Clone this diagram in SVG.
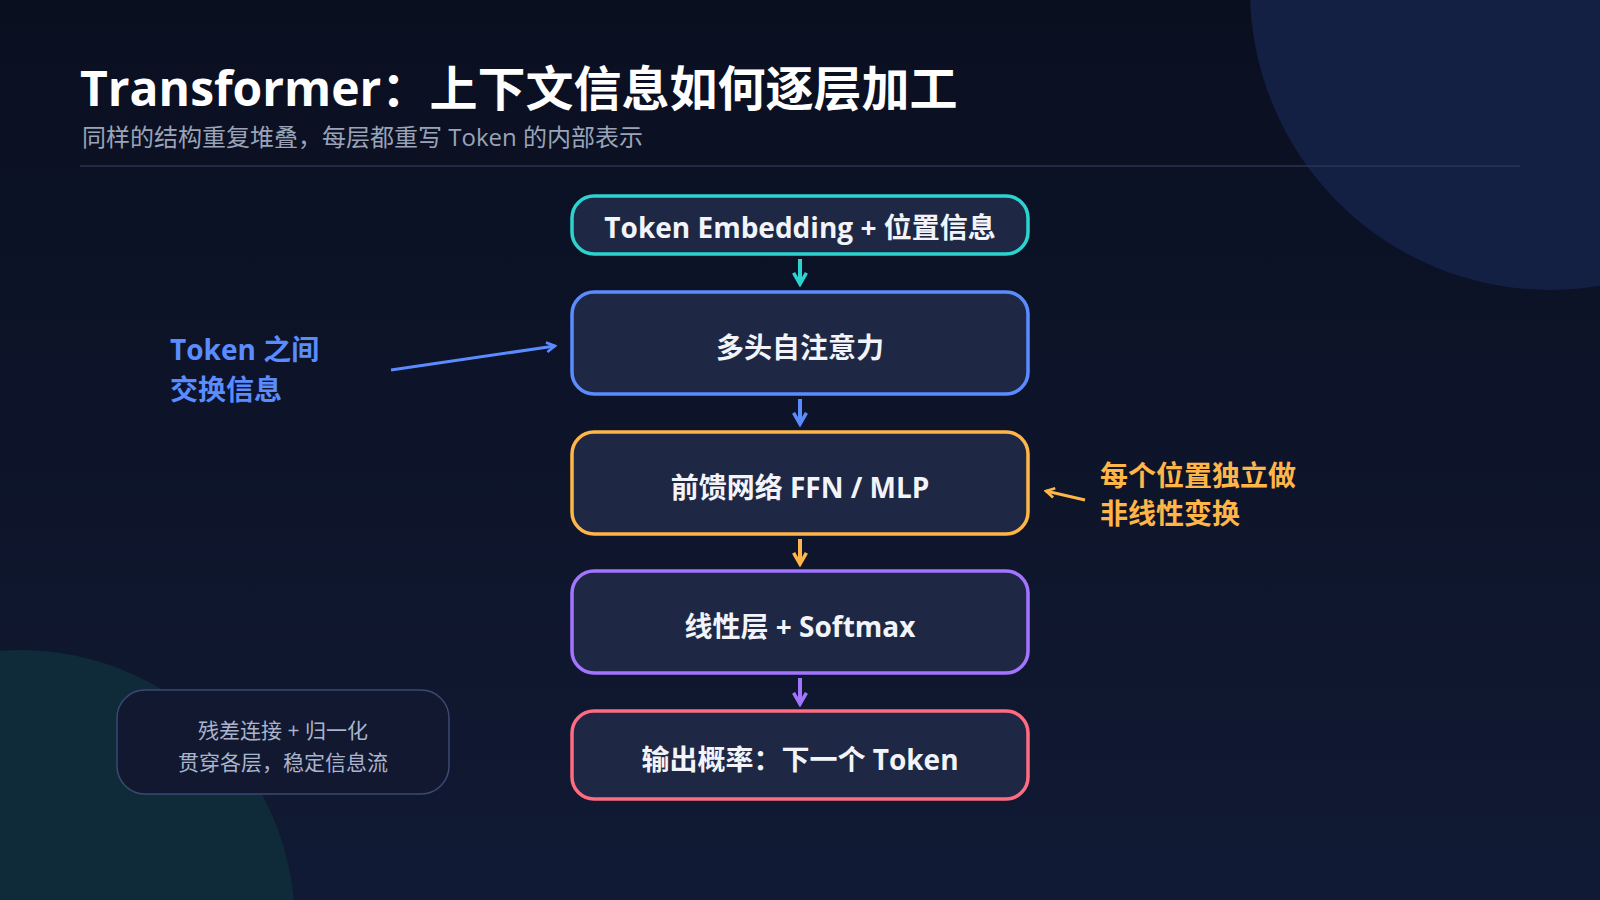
<svg xmlns="http://www.w3.org/2000/svg" width="1600" height="900" viewBox="0 0 1600 900">
<defs>
<linearGradient id="bg" x1="0" y1="0" x2="0" y2="1"><stop offset="0" stop-color="#0a0f20"/><stop offset="1" stop-color="#111a34"/></linearGradient>
<marker id="mt" viewBox="0 0 10 10" refX="8" refY="5" markerWidth="4" markerHeight="4" orient="auto"><path d="M1,1 L8,5 L1,9" fill="none" stroke="#2dd4cf" stroke-width="2.2"/></marker>
<marker id="mb" viewBox="0 0 10 10" refX="8" refY="5" markerWidth="4" markerHeight="4" orient="auto"><path d="M1,1 L8,5 L1,9" fill="none" stroke="#5b8cff" stroke-width="2.2"/></marker>
<marker id="mo" viewBox="0 0 10 10" refX="8" refY="5" markerWidth="4" markerHeight="4" orient="auto"><path d="M1,1 L8,5 L1,9" fill="none" stroke="#ffb547" stroke-width="2.2"/></marker>
<marker id="mp" viewBox="0 0 10 10" refX="8" refY="5" markerWidth="4" markerHeight="4" orient="auto"><path d="M1,1 L8,5 L1,9" fill="none" stroke="#a374ff" stroke-width="2.2"/></marker>
</defs>
<style>
text{font-family:"Open Sans","Noto Sans CJK SC",sans-serif}
.node{fill:#1e2844;stroke-width:3.5}
.nt{fill:#f2f4fa;font-size:28px;font-weight:700;text-anchor:middle}
.lab{font-size:28px;font-weight:700}
.ar{stroke-width:4;fill:none}
</style>
<rect width="1600" height="900" fill="url(#bg)"/>
<circle cx="1550" cy="-10" r="300" fill="#132043"/>
<circle cx="20" cy="925" r="275" fill="#0f2a38"/>
<text x="80" y="106" font-size="48" font-weight="700" fill="#ffffff">Transformer：上下文信息如何逐层加工</text>
<text x="82" y="146" font-size="24" fill="#9aa3b8">同样的结构重复堆叠，每层都重写 Token 的内部表示</text>
<line x1="80" y1="166" x2="1520" y2="166" stroke="#2a3552" stroke-width="1.5"/>
<g id="n1"><rect class="node" x="572" y="196" width="456" height="58" rx="22" stroke="#2dd4cf"/><text class="nt" x="800" y="238">Token Embedding + 位置信息</text></g>
<g id="n2"><rect class="node" x="572" y="292" width="456" height="102" rx="22" stroke="#5b8cff"/><text class="nt" x="800" y="358">多头自注意力</text></g>
<g id="n3"><rect class="node" x="572" y="432" width="456" height="102" rx="22" stroke="#ffb547"/><text class="nt" x="800" y="498">前馈网络 FFN / MLP</text></g>
<g id="n4"><rect class="node" x="572" y="571" width="456" height="102" rx="22" stroke="#a374ff"/><text class="nt" x="800" y="637">线性层 + Softmax</text></g>
<g id="n5"><rect class="node" x="572" y="711" width="456" height="88" rx="22" stroke="#ff6b81"/><text class="nt" x="800" y="770">输出概率：下一个 Token</text></g>
<g id="note"><rect x="117" y="690" width="332" height="104" rx="28" fill="#111830" stroke="#3a4a70" stroke-width="1.5"/>
<text x="283" y="738" font-size="21" fill="#aab4cc" text-anchor="middle">残差连接 + 归一化</text>
<text x="283" y="770" font-size="21" fill="#aab4cc" text-anchor="middle">贯穿各层，稳定信息流</text></g>
<g id="labels">
<text class="lab" x="170" y="360" fill="#5b8cff">Token 之间</text>
<text class="lab" x="170" y="400" fill="#5b8cff">交换信息</text>
<text class="lab" x="1100" y="486" fill="#ffb547">每个位置独立做</text>
<text class="lab" x="1100" y="524" fill="#ffb547">非线性变换</text>
</g>
<g id="connectors">
<line class="ar" x1="800" y1="259" x2="800" y2="284" stroke="#2dd4cf" marker-end="url(#mt)"/>
<line class="ar" x1="800" y1="399" x2="800" y2="424" stroke="#5b8cff" marker-end="url(#mb)"/>
<line class="ar" x1="800" y1="539" x2="800" y2="564" stroke="#ffb547" marker-end="url(#mo)"/>
<line class="ar" x1="800" y1="678" x2="800" y2="704" stroke="#a374ff" marker-end="url(#mp)"/>
<line x1="391" y1="370" x2="555" y2="346" stroke="#5b8cff" stroke-width="3" marker-end="url(#mb)"/>
<line x1="1085" y1="500" x2="1046" y2="491" stroke="#ffb547" stroke-width="3" marker-end="url(#mo)"/>
</g>
</svg>
